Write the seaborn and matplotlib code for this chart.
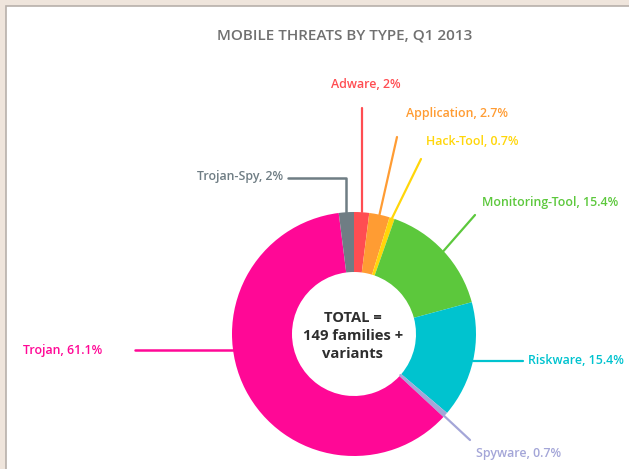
import numpy as np
import matplotlib.pyplot as plt
import seaborn as sns
from matplotlib.patches import Rectangle

# data, clockwise from 12 o'clock
threat_types = ["Adware", "Application", "Hack-Tool", "Monitoring-Tool",
                "Riskware", "Spyware", "Trojan", "Trojan-Spy"]
shares = [2, 2.7, 0.7, 15.4, 15.4, 0.7, 61.1, 2]
colors = ["#ff4d52", "#ff9c33", "#ffd60a", "#5cc83c",
          "#00c3cf", "#a4a6d8", "#ff0896", "#6f7d84"]
title = "MOBILE THREATS BY TYPE, Q1 2013"
center_text = "TOTAL =\n149 families +\nvariants"

W, H = 629, 469
CX, CY = 354, 334          # donut centre (pixels, y down)
R_OUT, R_IN = 122, 62

sns.set_theme(style="white")
plt.rcParams["font.family"] = ["Open Sans", "DejaVu Sans"]

fig = plt.figure(figsize=(W / 100, H / 100), dpi=100, facecolor="#efe5dc")
ax = fig.add_axes([0, 0, 1, 1])


def py(y):
    # pixel row (top down) -> data y
    return H - y


# white card with thin grey edge on top/left only (right/bottom run off the page)
ax.add_patch(Rectangle((6, -20), W + 20, py(6) + 20, facecolor="white",
                       edgecolor="#b7b0aa", linewidth=1.2, zorder=0))

wedges, _ = ax.pie(shares, colors=colors, startangle=90, counterclock=False,
                   center=(CX, py(CY)), radius=R_OUT,
                   wedgeprops=dict(width=R_OUT - R_IN, linewidth=0))


def anchor(i, r=R_OUT):
    w = wedges[i]
    t = np.deg2rad((w.theta1 + w.theta2) / 2)
    return CX + r * np.cos(t), py(CY) + r * np.sin(t)


lab_kw = dict(fontsize=8.9, fontweight="semibold")

# Adware: straight up
x0, y0 = anchor(0)
ax.plot([x0, x0], [y0, py(108)], color=colors[0], lw=1.6)
ax.text(x0 + 4, py(84), "Adware, 2%", color=colors[0], ha="center", va="center", **lab_kw)

# Application
x0, y0 = anchor(1)
ax.plot([x0, 397], [y0, py(137)], color=colors[1], lw=1.6)
ax.text(406, py(113), "Application, 2.7%", color=colors[1], ha="left", va="center", **lab_kw)

# Hack-Tool
x0, y0 = anchor(2)
ax.plot([x0, 421], [y0, py(159)], color=colors[2], lw=1.6)
ax.text(426, py(141), "Hack-Tool, 0.7%", color=colors[2], ha="left", va="center", **lab_kw)

# Monitoring-Tool
x0, y0 = anchor(3)
ax.plot([x0, 475], [y0, py(215)], color=colors[3], lw=1.6)
ax.text(482, py(202), "Monitoring-Tool, 15.4%", color=colors[3], ha="left", va="center", **lab_kw)

# Riskware: horizontal
x0, y0 = anchor(4)
ax.plot([x0, 523], [y0, y0], color=colors[4], lw=1.6)
ax.text(528, y0, "Riskware, 15.4%", color=colors[4], ha="left", va="center", **lab_kw)

# Spyware: from the inner edge outwards
x0, y0 = anchor(5, R_IN)
ax.plot([x0, 470], [y0, py(440)], color=colors[5], lw=1.6)
ax.text(476, py(453), "Spyware, 0.7%", color=colors[5], ha="left", va="center", **lab_kw)

# Trojan: horizontal into the left edge
yt = 350
xt = CX - np.sqrt(R_OUT ** 2 - (yt - CY) ** 2)
ax.plot([135, xt], [py(yt), py(yt)], color=colors[6], lw=1.8)
ax.text(23, py(yt), "Trojan, 61.1%", color=colors[6], ha="left", va="center", **lab_kw)

# Trojan-Spy: elbow
x0, y0 = anchor(7)
ax.plot([288, x0, x0], [py(178), py(178), y0], color=colors[7], lw=1.8)
ax.text(283, py(176), "Trojan-Spy, 2%", color=colors[7], ha="right", va="center", **lab_kw)

ax.text(CX - 1, py(CY + 2), center_text, ha="center", va="center",
        fontsize=10.6, fontweight="bold", color="#2e2e2e", linespacing=1.4)

ax.text(345, py(35), title, ha="center", va="center", fontsize=11,
        fontweight="semibold", color="#707070")

ax.set_xlim(0, W)
ax.set_ylim(0, H)
ax.set_aspect("auto")
ax.axis("off")

fig.savefig("out.png", dpi=100, facecolor=fig.get_facecolor())
